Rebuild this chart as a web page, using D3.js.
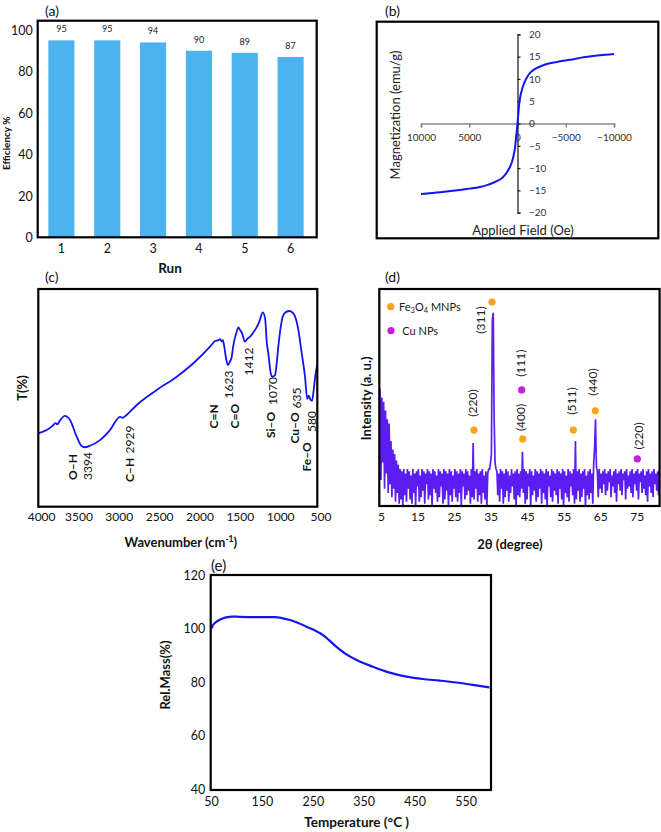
<!DOCTYPE html>
<html><head><meta charset="utf-8">
<script src="https://cdn.jsdelivr.net/npm/d3@7"></script>
<style>
body{margin:0;background:#fff;}
svg{display:block;font-family:Lato,"Open Sans",sans-serif;}
</style></head><body>
<svg id="c" width="661" height="832"></svg>
<script>
// ---------- (a) recycling ----------
const runs = ["1","2","3","4","5","6"];
const efficiency = [95,95,94,90,89,87];
const efficiencyTicks = [0,20,40,60,80,100];

// ---------- (b) VSM ----------
const fieldOe = [10000,8000,6000,5000,4000,3000,2200,1600,1140,800,620,450,350,250,176,100,0,-100,-166,-280,-415,-580,-756,-1000,-1275,-1600,-1969,-2600,-3347,-4300,-5420,-7000,-8528,-10000];
const magnetization = [-15.8,-15.4,-14.9,-14.6,-14.3,-13.7,-13.0,-12.2,-11.1,-9.8,-8.9,-7.6,-6.6,-5.3,-3.7,-2.2,0,2.6,4.2,5.9,7.2,8.4,9.4,10.4,11.3,11.9,12.4,13.0,13.5,13.9,14.3,14.9,15.3,15.6];
const fieldTicks = [10000,5000,0,-5000,-10000];
const magTicks = [-20,-15,-10,-5,0,5,10,15,20];

// ---------- (c) FT-IR ----------
const wavenumber = [3975,3869,3800,3760,3735,3715,3642,3580,3497,3440,3394,3332,3208,3084,2960,2929,2900,2857,2753,2505,2257,2051,1844,1782,1740,1720,1700,1687,1671,1645,1623,1600,1575,1560,1547,1520,1493,1470,1451,1412,1380,1348,1300,1274,1233,1191,1162,1140,1122,1090,1070,1039,1015,998,970,943,900,861,812,757,708,667,640,620,600,580,560,540,515];
const transmittance = [33.7,35.2,37.0,38.4,37.8,39.0,41.7,39.8,32.2,28.0,27.3,28.0,30.6,35.2,41.3,40.8,41.5,42.9,46.7,53.6,59.7,65.9,73.5,76.1,76.5,77.0,76.0,76.5,74.3,68.0,65.1,66.5,68.9,73.0,75.8,79.5,82.4,81.0,80.0,75.8,77.2,78.1,80.5,81.9,85.0,89.3,86.5,75.0,70.5,61.0,59.7,60.5,67.0,73.5,82.0,87.3,89.5,89.9,88.8,82.7,70.5,59.7,49.5,51.0,49.2,48.6,53.5,60.0,65.5];
const irTicks = [4000,3500,3000,2500,2000,1500,1000,500];

// ---------- (d) XRD ----------
const xrdStart = 5, xrdStep = 0.25;
const xrdIntensity = [
54,12,50,20, 48,8,44,15, 40,6,38,10, 30,4,26,8, 24,2,21,6,
19,1,17,3, 16,0,17,5, 15,2,17,8, 16,3,14,1, 17,6,15,0,
16,9,17,2, 14,4,17,7, 16,1,15,10, 17,3,16,5, 15,0,17,8,
16,6,14,2, 17,4,16,9, 15,1,17,3, 16,7,15,0, 17,5,16,2,
14,8,17,4, 16,2,15,6, 17,0,16,9, 15,3,17,5, 16,7,14,1,
17,4,29,3, 16,8,17,2, 15,5,16,1, 17,6,14,3, 16,0,15,17,
17,20,24,86, 89,40,20,17, 16,5,15,2, 17,8,16,1, 15,4,17,7,
16,2,14,6, 17,9,15,3, 16,0,17,5, 15,4,16,8, 25,6,17,1,
16,3,15,9, 17,0,16,5, 14,7,17,2, 16,4,15,8, 17,1,16,6,
15,3,17,0, 16,9,14,4, 17,2,16,7, 15,5,17,1, 16,8,15,3,
17,0,16,6, 14,4,17,2, 16,9,15,5, 17,1,30,3, 16,7,17,2,
15,4,16,8, 17,0,14,5, 16,3,17,6, 15,1,20,27, 40,18,16,4,
17,8,15,6, 16,10,17,5, 15,7,16,11, 17,4,14,9, 16,6,17,2,
15,10,16,7, 17,5,15,12, 16,3,17,8, 14,9,16,6, 17,4,15,10,
16,7,17,3, 15,11,16,6, 17,8,14,5, 16,2,17,9, 15,6,16,4,
17,10,15,7, 16,5,17];
const xrdTicks = [5,15,25,35,45,55,65,75];
const peakTheta = [35.66,30.73,43.79,44.06,57.92,63.94,75.44];
const peakMark = [94.0,35.0,53.5,30.9,35.0,43.9,21.7];
const peakPhase = ["Fe","Fe","Cu","Fe","Fe","Fe","Cu"];
const peakHkl = ["(311)","(220)","(111)","(400)","(511)","(440)","(220)"];

// ---------- (e) TGA ----------
const temperature = [52,53,57,61,67,74,82,90,106,140,175,205,238,270,296,313,336,368,401,434,466,499,532,564,597];
const relMass = [100.1,101.0,102.0,102.6,103.3,103.9,104.3,104.5,104.4,104.3,104.3,103.2,100.7,97.6,93.3,90.8,88.3,85.8,83.6,82.1,81.2,80.6,79.9,79.0,78.1];
const massTicks = [40,60,80,100,120];
const tempTicks = [50,150,250,350,450,550];

// ================= drawing =================
const FONT = 'Lato,"Open Sans",sans-serif';
const svg = d3.select("#c");
const BLUE = "#1414f0";

function frame(x0,y0,x1,y1){
  svg.append("rect").attr("x",x0).attr("y",y0).attr("width",x1-x0).attr("height",y1-y0)
    .attr("fill","none").attr("stroke","#000").attr("stroke-width",2.2);
}
function txt(s,x,y,fs,opt={}){
  const t = svg.append("text").attr("x",x).attr("y",y).attr("font-size",fs)
    .attr("font-family",FONT).attr("fill",opt.fill||"#111")
    .attr("font-weight",opt.bold?"bold":"normal")
    .attr("text-anchor",opt.anchor||"start").text(s);
  return t;
}
function rtxt(s,cx,cy,fs,opt={}){
  return svg.append("text").attr("transform",`translate(${cx+0.35*fs},${cy}) rotate(-90)`)
    .attr("font-size",fs).attr("font-family",FONT).attr("fill",opt.fill||"#111")
    .attr("font-weight",opt.bold?"bold":"normal")
    .attr("text-anchor",opt.anchor||"middle").text(s);
}
function styleAxis(g,fs,keepDomain){
  g.attr("font-size",null).attr("font-family",null);
  if(!keepDomain) g.select(".domain").remove();
  g.selectAll("text").attr("font-size",fs).attr("font-family",FONT).attr("fill","#111");
}

// ---- (a) ----
{
  const x = d3.scaleBand().domain(runs).range([38.5,313.5]).paddingInner(0.43).paddingOuter(0.215);
  const y = d3.scaleLinear().domain([0,104]).range([237.5,21.7]);
  svg.append("g").selectAll("rect").data(efficiency).join("rect")
    .attr("x",(d,i)=>x(runs[i])).attr("width",x.bandwidth())
    .attr("y",d=>y(d)).attr("height",d=>y(0)-y(d)).attr("fill","#4db3ee");
  svg.append("g").selectAll("text").data(efficiency).join("text")
    .attr("x",(d,i)=>x(runs[i])+x.bandwidth()/2).attr("y",d=>y(d)-8)
    .attr("text-anchor","middle").attr("font-size",9).attr("font-family",FONT).attr("fill","#222").text(d=>d);
  frame(37.7,20.7,316.7,237.3);
  const gy = svg.append("g").attr("transform","translate(37.7,0)")
    .call(d3.axisLeft(y).tickValues(efficiencyTicks).tickSize(0).tickPadding(5));
  styleAxis(gy,12.5);
  const gx = svg.append("g").attr("transform","translate(0,237.3)")
    .call(d3.axisBottom(x).tickSize(0).tickPadding(7));
  styleAxis(gx,12.5);
  txt("Run",170,272.5,13.5,{bold:true,anchor:"middle"});
  rtxt("Efficiency %",6.7,143.3,10,{bold:true});
  txt("(a)",45,15.5,14);
}

// ---- (b) ----
{
  const x = d3.scaleLinear().domain([10000,-10000]).range([421,614]);
  const y = d3.scaleLinear().domain([-20,20]).range([212.7,34.3]);
  frame(376.7,21.7,658.3,238.3);
  const gx = svg.append("g").attr("transform",`translate(0,${y(0)})`)
    .call(d3.axisBottom(x).tickValues(fieldTicks).tickSize(4).tickSizeOuter(4).tickPadding(6.5).tickFormat(d3.format("d")));
  styleAxis(gx,10,true);
  gx.selectAll("path,line").attr("stroke","#888").attr("stroke-width",1.5);
  gx.selectAll("text").attr("fill","#333");
  const gy = svg.append("g").attr("transform",`translate(${x(0)},0)`)
    .call(d3.axisRight(y).tickValues(magTicks).tickSize(3).tickSizeOuter(3).tickPadding(8.5));
  styleAxis(gy,10,true);
  gy.selectAll("path,line").attr("stroke","#222").attr("stroke-width",1.3);
  gy.selectAll("text").attr("fill","#333").attr("text-anchor","start");
  const line = d3.line().x((d,i)=>x(fieldOe[i])).y(d=>y(d)).curve(d3.curveMonotoneX);
  svg.append("path").attr("d",line(magnetization)).attr("fill","none").attr("stroke",BLUE).attr("stroke-width",2);
  rtxt("Magnetization (emu/g)",395,115,13,{fill:"#222"});
  txt("Applied Field (Oe)",523,234.5,13,{anchor:"middle",fill:"#222"});
  txt("(b)",385,15.5,14);
}

// ---- (c) ----
{
  const x = d3.scaleLinear().domain([4000,500]).range([36.1,318.5]);
  const y = d3.scaleLinear().domain([0,100]).range([506.7,289]);
  svg.append("clipPath").attr("id","clipc").append("rect").attr("x",38.3).attr("y",289).attr("width",279).attr("height",217.7);
  const line = d3.line().x((d,i)=>x(wavenumber[i])).y(d=>y(d)).curve(d3.curveMonotoneX);
  svg.append("path").attr("clip-path","url(#clipc)").attr("d",line(transmittance))
    .attr("fill","none").attr("stroke",BLUE).attr("stroke-width",1.8);
  frame(38.3,289,317.3,506.7);
  const gx = svg.append("g").attr("transform","translate(0,506.7)")
    .call(d3.axisBottom(x).tickValues(irTicks).tickSize(0).tickPadding(6).tickFormat(d3.format("d")));
  styleAxis(gx,12);
  gx.selectAll("text").attr("dx",d=>d===4000?5:2);
  const wlab = txt("Wavenumber (cm",180.8,546.5,13,{bold:true,anchor:"middle"});
  wlab.append("tspan").attr("font-size",8.5).attr("dy",-5).text("-1");
  wlab.append("tspan").attr("dy",5).text(")");
  rtxt("T(%)",22.5,388,13,{bold:true});
  txt("(c)",45,282,14);
  const ann = [["O–H",1,72.7,480],["3394",0,87.3,480],["C–H",1,130,482],["2929",0,130,453.5],
    ["C=N",1,213.3,428.5],["C=O",1,235,428.5],["1623",0,228.5,398.5],["1412",0,248.3,375.5],
    ["Si–O",1,270.7,438],["1070",0,272.7,405],["Cu–O",1,295,443.5],["635",0,296.7,408.5],
    ["Fe–O",1,307.2,471.5],["580",0,311.7,432]];
  ann.forEach(a=>rtxt(a[0],a[2],a[3],12,{bold:a[1]===1,anchor:"start"}));
}

// ---- (d) ----
{
  const x = d3.scaleLinear().domain([5,81.65]).range([380,660]);
  const y = d3.scaleLinear().domain([0,100]).range([506,289]);
  svg.append("clipPath").attr("id","clipd").append("rect").attr("x",379.3).attr("y",289).attr("width",280.5).attr("height",217);
  const line = d3.line().x((d,i)=>x(xrdStart+i*xrdStep)).y(d=>y(d));
  svg.append("path").attr("clip-path","url(#clipd)").attr("d",line(xrdIntensity))
    .attr("fill","none").attr("stroke","#5b1df2").attr("stroke-width",1.7).attr("stroke-linejoin","miter");
  frame(379.3,289,659.6,506);
  const gx = svg.append("g").attr("transform","translate(0,506)")
    .call(d3.axisBottom(x).tickValues(xrdTicks).tickSize(0).tickPadding(6));
  styleAxis(gx,12);
  gx.selectAll("text").attr("dx",1);
  const col = {Fe:"#f6a31e",Cu:"#c022dc"};
  svg.append("g").selectAll("circle").data(peakTheta).join("circle")
    .attr("cx",d=>x(d)).attr("cy",(d,i)=>y(peakMark[i])).attr("r",3.6)
    .attr("fill",(d,i)=>col[peakPhase[i]]);
  const off = [[-11,18],[-1,-27],[-1,-26.7],[-2,-21.5],[-2,-29],[-2.3,-28.7],[1,-23]];
  peakHkl.forEach((h,i)=>rtxt(h,x(peakTheta[i])+off[i][0],y(peakMark[i])+off[i][1],12,{fill:"#222"}));
  svg.append("circle").attr("cx",390.7).attr("cy",306.7).attr("r",3.6).attr("fill",col.Fe);
  svg.append("circle").attr("cx",391).attr("cy",330.7).attr("r",3.6).attr("fill",col.Cu);
  const l1 = txt("Fe",399,310.5,11,{fill:"#222"});
  l1.append("tspan").attr("font-size",7.5).attr("dy",2.5).text("3");
  l1.append("tspan").attr("dy",-2.5).text("O");
  l1.append("tspan").attr("font-size",7.5).attr("dy",2.5).text("4");
  l1.append("tspan").attr("dy",-2.5).text(" MNPs");
  txt("Cu NPs",402.3,334.5,11,{fill:"#222"});
  txt("2θ (degree)",510,548.5,13,{bold:true,anchor:"middle"});
  rtxt("Intensity (a. u.)",366,398.3,13,{bold:true});
  txt("(d)",385,282,14);
}

// ---- (e) ----
{
  const x = d3.scaleLinear().domain([50,600]).range([211,491]);
  const y = d3.scaleLinear().domain([40,120]).range([789.5,575]);
  const line = d3.line().x((d,i)=>x(temperature[i])).y(d=>y(d)).curve(d3.curveMonotoneX);
  svg.append("path").attr("d",line(relMass)).attr("fill","none").attr("stroke",BLUE).attr("stroke-width",2.2);
  frame(210.7,575,491,790);
  const gy = svg.append("g").attr("transform","translate(210.7,0)")
    .call(d3.axisLeft(y).tickValues(massTicks).tickSize(0).tickPadding(5.5));
  styleAxis(gy,12.5);
  const gx = svg.append("g").attr("transform","translate(0,790)")
    .call(d3.axisBottom(x).tickValues(tempTicks).tickSize(0).tickPadding(7));
  styleAxis(gx,12.5);
  txt("Temperature (°C )",356.7,827,13.5,{bold:true,anchor:"middle"});
  rtxt("Rel.Mass(%)",165,675,13,{bold:true});
  txt("(e)",211,571,15);
}
</script>
</body></html>
